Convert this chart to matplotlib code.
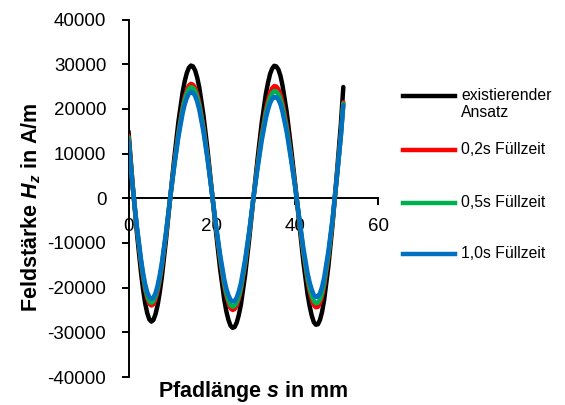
import numpy as np
import matplotlib
matplotlib.use("Agg")
import matplotlib.pyplot as plt
from matplotlib.lines import Line2D

plt.rcParams['font.family'] = ['Liberation Sans', 'DejaVu Sans']
plt.rcParams['mathtext.fontset'] = 'custom'
plt.rcParams['mathtext.it'] = 'Liberation Sans:bold:italic'
plt.rcParams['mathtext.rm'] = 'Liberation Sans:bold'
plt.rcParams['mathtext.bf'] = 'Liberation Sans:bold'

# Path length s in mm
s = [0, 1, 2, 3, 3.5, 4, 4.5, 5, 5.5, 6, 6.5, 7, 7.5, 8, 9, 10,
     11, 12, 13, 13.5, 14, 14.5, 15, 15.5, 16, 16.5, 17, 18, 19, 20,
     21, 22, 23, 23.5, 24, 24.5, 25, 25.5, 26, 26.5, 27, 28, 29, 30,
     31, 32, 33, 33.5, 34, 34.5, 35, 35.5, 36, 36.5, 37, 38, 39, 40,
     41, 42, 43, 43.5, 44, 44.5, 45, 45.5, 46, 46.5, 47, 48, 49, 50, 51, 51.6]

existierend = [15000, 3000, -7600, -16600, -20400, -23500, -25700, -27100, -27600, -27200, -25900, -23900, -21100, -17700, -9400, 0,
               9000, 17200, 23700, 26200, 28000, 29200, 29700, 29500, 28600, 27000, 24800, 18600, 10700, 1800,
               -7400, -15800, -22700, -25300, -27200, -28500, -29000, -28800, -27800, -26100, -23800, -17300, -9100, 0,
               8800, 16900, 23400, 25800, 27800, 29000, 29650, 29500, 28800, 27400, 25200, 19300, 11600, 3500,
               -5500, -14200, -21400, -24100, -26200, -27700, -28300, -28200, -27200, -25400, -22700, -15300, -6000, 5000, 16500, 24900]

fuell_02 = [14000, 2800, -6600, -14400, -17700, -20400, -22400, -23600, -24000, -23700, -22500, -20800, -18400, -15400, -8200, 0,
            7800, 14800, 20400, 22600, 24100, 25200, 25600, 25400, 24700, 23300, 21400, 16000, 9200, 1600,
            -6400, -13600, -19600, -21800, -23400, -24600, -25000, -24800, -24000, -22500, -20500, -14900, -7800, 0,
            7500, 14300, 19800, 21900, 23500, 24600, 25100, 25000, 24400, 23200, 21300, 16300, 9800, 3000,
            -4700, -12200, -18400, -20800, -22600, -23900, -24400, -24300, -23400, -21900, -19600, -13200, -5200, 4300, 14200, 21500]

fuell_05 = [13600, 2700, -6400, -14100, -17300, -19900, -21800, -23000, -23400, -23000, -21900, -20200, -17900, -15000, -8000, 0,
            7500, 14400, 19900, 22000, 23500, 24500, 24900, 24700, 24000, 22600, 20800, 15600, 9000, 1500,
            -6200, -13200, -19000, -21200, -22800, -23900, -24300, -24100, -23300, -21900, -19900, -14500, -7600, 0,
            7100, 13700, 19000, 20900, 22500, 23500, 24000, 23900, 23300, 22200, 20400, 15600, 9400, 2800,
            -4600, -11800, -17800, -20000, -21700, -23000, -23500, -23400, -22600, -21100, -18800, -12700, -5000, 4200, 14000, 21200]

fuell_10 = [13000, 2500, -6200, -13600, -16700, -19200, -21000, -22100, -22500, -22200, -21200, -19500, -17200, -14500, -7700, 0,
            7200, 13800, 19000, 21000, 22400, 23400, 23800, 23600, 22900, 21600, 19800, 14900, 8600, 1400,
            -5900, -12600, -18100, -20200, -21700, -22700, -23100, -23000, -22200, -20800, -19000, -13800, -7300, 0,
            6700, 12900, 17900, 19800, 21300, 22200, 22700, 22600, 22100, 21000, 19300, 14800, 8900, 2700,
            -4300, -11100, -16700, -18800, -20400, -21600, -22100, -22000, -21200, -19800, -17700, -11900, -4700, 4200, 13800, 20800]

series_names = ["existierender\nAnsatz", "0,2s Füllzeit", "0,5s Füllzeit", "1,0s Füllzeit"]
series_values = [existierend, fuell_02, fuell_05, fuell_10]
colors = ["#000000", "#FF0000", "#00B050", "#0070C0"]

x_ticks = [0, 20, 40, 60]
y_ticks = [-40000, -30000, -20000, -10000, 0, 10000, 20000, 30000, 40000]

W, H = 565, 405
fig = plt.figure(figsize=(W / 100, H / 100), dpi=100)
ax = fig.add_axes([128.5 / W, 1 - 377 / H, (378.3 - 128.5) / W, (377 - 19.5) / H])

lw = 3.2
for vals, c in zip(series_values, colors):
    ax.plot(s, vals, color=c, lw=lw, solid_capstyle='round', solid_joinstyle='round')

ax.set_xlim(0, 60)
ax.set_ylim(-40000, 40000)
ax.set_xticks(x_ticks)
ax.set_yticks(y_ticks)
ax.set_yticklabels([str(v) for v in y_ticks])
ax.set_xticklabels([str(v) for v in x_ticks])

for side in ['top', 'right']:
    ax.spines[side].set_visible(False)
ax.spines['left'].set_position(('data', 0))
ax.spines['bottom'].set_position(('data', 0))
for side in ['left', 'bottom']:
    ax.spines[side].set_linewidth(1.4)
    ax.spines[side].set_color('black')
    ax.spines[side].set_zorder(1)

ax.tick_params(axis='y', direction='out', length=5, width=1.4, pad=11, labelsize=13.5)
ax.tick_params(axis='x', direction='out', length=5, width=1.4, pad=9, labelsize=13.5)
ax.patch.set_visible(False)

fig.text(253 / W, 1 - 392 / H, "Pfadlänge $s$ in mm", ha='center', va='center',
         fontsize=15.5, fontweight='bold')
fig.text(31 / W, 1 - 207 / H, "Feldstärke $H_z$ in A/m", ha='center', va='center',
         rotation=90, fontsize=15.5, fontweight='bold')

# legend
leg_y = [96, 150, 203, 254]
for name, c, yy in zip(series_names, colors, leg_y):
    yf = 1 - yy / H
    fig.add_artist(Line2D([403 / W, 455 / W], [yf, yf], color=c, lw=lw,
                          transform=fig.transFigure))
    fig.text(461 / W, yf + 8 / H, name, ha='left', va='top', fontsize=11.3,
             linespacing=1.2)

fig.savefig("out.png", dpi=100)
